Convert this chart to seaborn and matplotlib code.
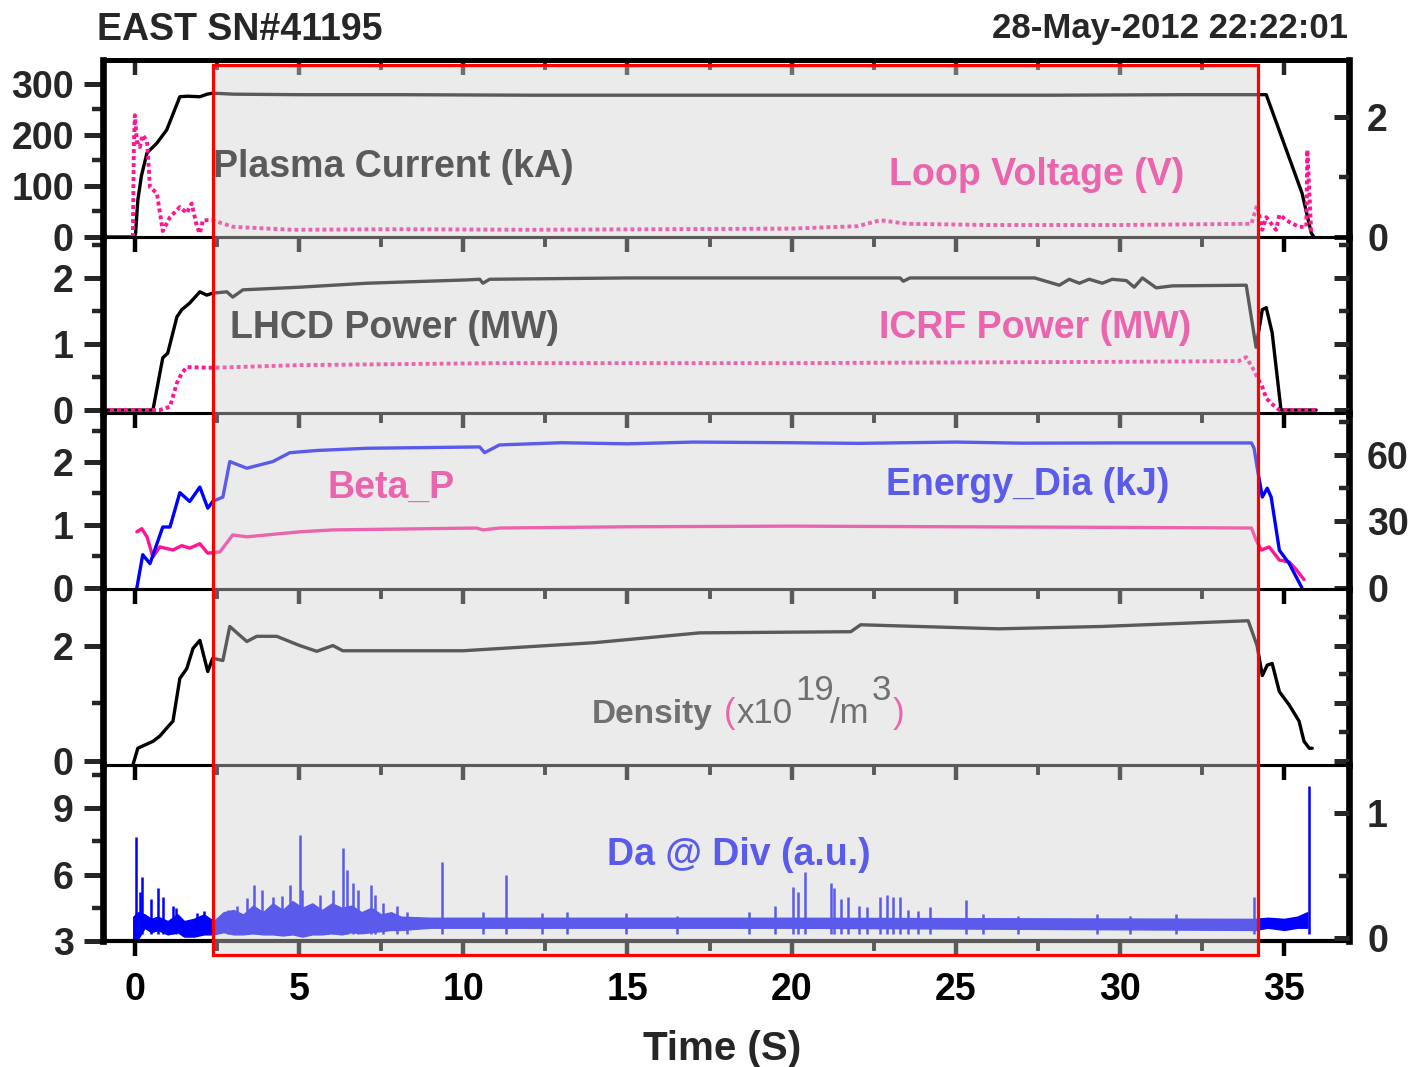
import matplotlib
matplotlib.use('Agg')
import numpy as np
import pandas as pd
import matplotlib.pyplot as plt
from matplotlib.patches import Rectangle
from matplotlib.ticker import MultipleLocator
import seaborn as sns

# ---- datos (tiempo en s) ----
# panel 1: corriente de plasma (kA, eje izq) y tension de lazo (V, eje der)
t_ip = [-0.9, -0.05, 0.02, 0.09, 0.2, 0.37, 0.67, 0.97, 1.37, 1.6, 1.98, 2.2, 2.37, 3.0,
        5.0, 8.0, 12.0, 16.0, 20.0, 24.0, 28.0, 32.0, 34.45, 35.54, 35.82, 35.9]
ip_ka = [0, 0, 5, 72, 120, 165, 184, 210, 275, 276, 275, 280, 282, 280,
         279, 279, 278, 278, 278, 278, 278, 279, 279, 86, 8, 0]

t_vloop = [-0.06, -0.03, 0.0, 0.06, 0.15, 0.24, 0.37, 0.46, 0.67, 0.85, 1.07, 1.37, 1.58,
           1.73, 1.89, 1.98, 2.07, 2.37, 2.98, 4.8, 8.0, 12.0, 16.0, 20.0, 22.0, 22.7,
           23.5, 26.0, 30.0, 34.0, 34.17, 34.33, 34.45, 34.75, 34.85, 35.15, 35.45,
           35.67, 35.7, 35.76, 35.82]
vloop = [0.0, 1.5, 2.03, 1.6, 1.5, 1.7, 1.6, 0.83, 0.73, 0.1, 0.33, 0.5, 0.4,
         0.56, 0.17, 0.06, 0.28, 0.28, 0.17, 0.12, 0.13, 0.12, 0.13, 0.14, 0.18, 0.28,
         0.22, 0.2, 0.2, 0.22, 0.53, 0.12, 0.33, 0.12, 0.37, 0.25, 0.17,
         0.17, 1.45, 0.8, 0.05]

# panel 2: potencia LHCD e ICRF (MW)
t_lhcd = [-0.9, 0.55, 0.85, 1.0, 1.28, 1.43, 1.67, 1.98, 2.19, 2.37, 2.8, 2.98, 3.29,
          5.02, 7.06, 10.1, 10.5, 10.6, 10.8, 15.0, 20.0, 23.3, 23.4, 23.6, 27.4,
          28.15, 28.45, 28.76, 29.06, 29.46, 29.76, 30.19, 30.43, 30.68, 31.1, 31.59,
          33.84, 34.14, 34.33, 34.45, 34.63, 34.9, 35.97]
lhcd = [0, 0, 0.79, 0.86, 1.41, 1.52, 1.62, 1.79, 1.74, 1.77, 1.79, 1.71, 1.82,
        1.86, 1.92, 1.97, 1.98, 1.92, 1.98, 2.0, 2.0, 2.0, 1.95, 2.0, 2.0,
        1.89, 1.98, 1.92, 1.98, 1.92, 1.98, 1.96, 1.86, 2.0, 1.85, 1.88,
        1.89, 0.95, 1.52, 1.55, 1.17, 0, 0]

t_icrf = [-0.97, 0.76, 1.07, 1.28, 1.43, 1.58, 2.37, 5.02, 11.1, 20.0, 25.0, 30.0,
          33.6, 33.84, 34.08, 34.17, 34.33, 34.45, 34.6, 34.85, 35.97]
icrf = [0, 0, 0.05, 0.41, 0.56, 0.65, 0.64, 0.68, 0.71, 0.71, 0.72, 0.73,
        0.74, 0.8, 0.6, 0.5, 0.35, 0.18, 0.1, 0, 0]

# panel 3: Beta_P (eje izq) y energia diamagnetica (kJ, eje der)
t_betap = [0.06, 0.21, 0.37, 0.55, 0.76, 1.16, 1.43, 1.67, 1.98, 2.22, 2.59, 2.98, 3.41,
           5.02, 6.03, 10.4, 10.6, 11.1, 15.0, 20.0, 25.0, 30.0, 34.0, 34.14, 34.3,
           34.54, 34.85, 35.15, 35.36, 35.6]
betap = [0.89, 0.94, 0.81, 0.49, 0.65, 0.6, 0.67, 0.63, 0.7, 0.55, 0.57, 0.84, 0.81,
         0.89, 0.92, 0.95, 0.92, 0.95, 0.97, 0.98, 0.97, 0.96, 0.95, 0.76, 0.6,
         0.65, 0.44, 0.41, 0.29, 0.13]

t_wdia = [0.06, 0.24, 0.46, 0.85, 1.07, 1.37, 1.67, 1.98, 2.22, 2.37, 2.68, 2.89, 3.41,
          4.2, 4.72, 5.54, 7.06, 10.5, 10.65, 11.1, 13.0, 15.0, 17.0, 20.0, 22.0,
          25.0, 27.0, 30.0, 34.0, 34.08, 34.17, 34.33, 34.48, 34.6, 34.85, 35.15, 35.54]
wdia = [0, 15, 11, 27.5, 27.5, 43, 39, 45.5, 36, 39, 41, 57, 54,
        57, 61, 62, 63, 63.6, 61, 64.5, 65.5, 65, 65.8, 65.5, 65.2,
        65.8, 65.3, 65.4, 65.4, 63, 54.6, 41, 45, 41, 17, 11, 0]

# panel 4: densidad (1e19 m^-3)
t_ne = [-0.06, 0.09, 0.24, 0.55, 0.76, 0.97, 1.16, 1.37, 1.58, 1.77, 1.98, 2.22, 2.37,
        2.68, 2.89, 3.41, 3.71, 4.32, 5.02, 5.54, 6.03, 6.33, 7.06, 10.0, 14.0, 17.2,
        21.8, 22.1, 26.3, 29.4, 33.9, 34.17, 34.33, 34.48, 34.63, 34.85, 35.15, 35.45,
        35.6, 35.76, 35.85]
ne = [-0.07, 0.22, 0.26, 0.34, 0.43, 0.57, 0.69, 1.43, 1.6, 1.95, 2.09, 1.55, 1.78,
      1.74, 2.33, 2.07, 2.16, 2.16, 2.0, 1.9, 2.0, 1.91, 1.91, 1.91, 2.05, 2.22,
      2.24, 2.36, 2.29, 2.33, 2.43, 2.0, 1.48, 1.66, 1.69, 1.2, 0.97, 0.69,
      0.34, 0.22, 0.22]

# panel 5: Da en divertor (u.a.): banda de ruido y picos
t_da_band = [-0.05, 0.1, 0.3, 0.5, 0.7, 1.0, 1.3, 1.5, 1.8, 2.1, 2.4, 2.7, 3.0, 3.3, 3.6,
             3.9, 4.2, 4.5, 4.8, 5.1, 5.4, 5.7, 6.0, 6.3, 6.6, 6.9, 7.2, 7.5, 7.8, 8.1,
             9.0, 20.0, 34.1, 34.5, 35.0, 35.4, 35.7]
da_low = [3.0, 3.1, 3.6, 3.4, 3.5, 3.3, 3.4, 3.2, 3.2, 3.3, 3.3, 3.4, 3.3, 3.3, 3.35,
          3.3, 3.3, 3.25, 3.3, 3.2, 3.3, 3.3, 3.35, 3.3, 3.4, 3.35, 3.4, 3.45, 3.5, 3.5,
          3.6, 3.6, 3.5, 3.6, 3.5, 3.6, 3.6]
da_high = [4.1, 4.3, 4.2, 4.0, 4.1, 3.9, 4.2, 3.9, 4.0, 4.2, 3.9, 4.3, 4.4, 4.2, 4.6,
           4.3, 4.7, 4.4, 4.8, 4.5, 4.7, 4.4, 4.7, 4.5, 4.6, 4.3, 4.5, 4.2, 4.3, 4.1,
           4.05, 4.05, 4.0, 4.05, 4.0, 4.1, 4.3]
da_spike_t = [0.05, 0.15, 0.22, 0.5, 0.7, 0.85, 1.15, 1.25, 1.9, 2.1,
              2.83, 3.1, 3.4, 3.62, 3.86, 4.2, 4.47, 4.72, 5.02, 5.1, 5.63, 6.02, 6.33,
              6.45, 6.64, 6.79, 7.18, 7.3, 7.55, 7.97, 8.3, 9.34, 10.6, 11.3, 12.4,
              13.15, 14.97, 16.5, 18.7, 19.5, 20.05, 20.2, 20.4, 21.2, 21.3, 21.5, 21.7,
              22.06, 22.3, 22.7, 22.9, 23.07, 23.3, 23.55, 23.86, 24.2, 25.3, 25.84,
              26.9, 29.3, 30.3, 31.7, 34.08, 35.76]
da_spike_top = [7.7, 5.2, 5.9, 4.9, 5.4, 5.0, 4.6, 4.5, 4.25, 4.35,
                4.4, 4.6, 4.95, 5.55, 5.3, 5.0, 5.05, 5.55, 7.8, 5.3, 5.1, 5.3, 7.2,
                6.2, 5.6, 5.3, 5.55, 5.1, 4.7, 4.6, 4.3, 6.55, 4.3, 6.0, 4.25,
                4.3, 4.25, 4.15, 4.3, 4.6, 5.45, 5.2, 6.1, 5.6, 5.4, 4.9, 5.0,
                4.6, 4.55, 5.0, 5.1, 5.0, 5.0, 4.4, 4.35, 4.55, 4.85, 4.2,
                4.15, 4.2, 4.15, 4.2, 5.0, 10.0]
da_spike_base = 3.3

PINK = '#FF1493'
BLUE = '#0000FF'

sns.set_theme(style="white")
plt.rcParams['font.family'] = ['Liberation Sans', 'DejaVu Sans']
plt.rcParams['font.weight'] = 'bold'

W, H = 1416, 1067
fig = plt.figure(figsize=(W / 100, H / 100), dpi=100)
fig.patch.set_facecolor('white')


def fx(x):
    return x / W


def fy(y):
    return 1 - y / H


def curva(ax, t, v, color, dotted=False, lw=2.4):
    df = pd.DataFrame({'t': t, 'v': v})
    sns.lineplot(data=df, x='t', y='v', ax=ax, color=color, linewidth=lw,
                 linestyle=(0, (1, 0.8)) if dotted else '-', estimator=None, sort=False)
    ax.set_xlabel('')
    ax.set_ylabel('')


bordes = [60, 237, 413, 589, 765, 941]
x_izq, x_der = 103, 1349
ylims_izq = [(0, 347), (-0.045, 2.62), (-0.02, 2.78), (-0.07, 2.98), (3.0, 10.95)]
ylims_der = [(0, 2.95), (-0.045, 2.62), (-0.45, 78.9), (-0.07, 2.98), (-0.02, 1.38)]
major_izq = [100, 1, 1, 2, 3]
minor_izq = [50, 0.5, 0.5, 1, 1.5]
major_der = [2, 1, 30, 1, 1]
minor_der = [1, 0.5, 15, 0.5, 0.5]
con_etiqueta_der = [True, False, True, False, True]

ejes, gemelos = [], []
for i in range(5):
    top, bot = bordes[i], bordes[i + 1]
    ax = fig.add_axes([fx(x_izq), fy(bot), (x_der - x_izq) / W, (bot - top) / H])
    ax.set_facecolor('none')
    tw = ax.twinx()
    ejes.append(ax)
    gemelos.append(tw)

# curvas
curva(ejes[0], t_ip, ip_ka, 'black')
curva(gemelos[0], t_vloop, vloop, PINK, dotted=True, lw=2.8)
curva(ejes[1], t_lhcd, lhcd, 'black')
curva(ejes[1], t_icrf, icrf, PINK, dotted=True, lw=2.8)
curva(ejes[2], t_betap, betap, PINK)
curva(gemelos[2], t_wdia, wdia, BLUE)
curva(ejes[3], t_ne, ne, 'black')
ejes[4].fill_between(t_da_band, da_low, da_high, color=BLUE, lw=1.0)
ejes[4].vlines(da_spike_t, da_spike_base, da_spike_top, color=BLUE, lw=1.8)

for i in range(5):
    ax, tw = ejes[i], gemelos[i]
    ax.set_xlim(-0.97, 36.97)
    ax.set_ylim(*ylims_izq[i])
    tw.set_ylim(*ylims_der[i])
    ax.xaxis.set_major_locator(MultipleLocator(5))
    ax.xaxis.set_minor_locator(MultipleLocator(2.5))
    ax.yaxis.set_major_locator(MultipleLocator(major_izq[i]))
    ax.yaxis.set_minor_locator(MultipleLocator(minor_izq[i]))
    tw.yaxis.set_major_locator(MultipleLocator(major_der[i]))
    tw.yaxis.set_minor_locator(MultipleLocator(minor_der[i]))
    ultimo = i == 4
    ax.tick_params(axis='x', which='both', bottom=True, top=False, direction='out',
                   labelbottom=ultimo, labelsize=27, pad=11, colors='black')
    ax.tick_params(axis='x', which='major', length=11, width=3.2)
    ax.tick_params(axis='x', which='minor', length=7, width=2.8)
    ax.tick_params(axis='y', which='both', left=True, right=False, direction='out',
                   labelsize=27, pad=7)
    ax.tick_params(axis='y', which='major', length=14, width=3.6)
    ax.tick_params(axis='y', which='minor', length=8, width=3.2)
    tw.tick_params(axis='y', which='both', left=False, right=True, direction='in',
                   labelright=con_etiqueta_der[i], labelsize=27, pad=13)
    tw.tick_params(axis='y', which='major', length=11, width=3.6)
    tw.tick_params(axis='y', which='minor', length=7, width=3.2)
    for lado in ['left', 'right', 'top', 'bottom']:
        ax.spines[lado].set_visible(True)
        ax.spines[lado].set_color('black')
        tw.spines[lado].set_visible(False)
    ax.spines['left'].set_linewidth(4.8)
    ax.spines['right'].set_linewidth(4.8)
    ax.spines['top'].set_linewidth(3.5 if i == 0 else 2.2)
    ax.spines['bottom'].set_linewidth(3.0 if ultimo else 2.2)
    ax.grid(False)
    tw.grid(False)

# marcas superiores del primer panel
sec = ejes[0].secondary_xaxis('top')
sec.xaxis.set_major_locator(MultipleLocator(5))
sec.xaxis.set_minor_locator(MultipleLocator(2.5))
sec.tick_params(axis='x', which='both', direction='in', labeltop=False)
sec.tick_params(axis='x', which='major', length=11, width=3.2)
sec.tick_params(axis='x', which='minor', length=7, width=2.8)
sec.spines['top'].set_linewidth(3.5)

# textos
fig.text(fx(97), fy(40), 'EAST SN#41195', fontsize=27, weight='bold', va='baseline')
fig.text(fx(1348), fy(38), '28-May-2012 22:22:01', fontsize=25, weight='bold',
         va='baseline', ha='right')
fig.text(fx(722), fy(1060), 'Time (S)', fontsize=29, weight='bold', va='baseline', ha='center')

etiquetas = [
    ('Plasma Current (kA)', 213, 177, 'black'),
    ('Loop Voltage (V)', 889, 185, PINK),
    ('LHCD Power (MW)', 230, 338, 'black'),
    ('ICRF Power (MW)', 879, 338, PINK),
    ('Beta_P', 328, 498, PINK),
    ('Energy_Dia (kJ)', 886, 495, BLUE),
    ('Da @ Div (a.u.)', 607, 865, BLUE),
]
for txt, x, y, c in etiquetas:
    fig.text(fx(x), fy(y), txt, fontsize=27, weight='bold', color=c, va='baseline')

fig.text(fx(592), fy(723), 'Density', fontsize=24, weight='bold', va='baseline')
fig.text(fx(724), fy(723), '(', fontsize=25, weight='normal', color=PINK, va='baseline')
fig.text(fx(737), fy(723), 'x10', fontsize=25, weight='normal', va='baseline')
fig.text(fx(795), fy(700), '19', fontsize=25, weight='normal', va='baseline')
fig.text(fx(830), fy(723), '/m', fontsize=25, weight='normal', va='baseline')
fig.text(fx(872), fy(700), '3', fontsize=25, weight='normal', va='baseline')
fig.text(fx(893), fy(723), ')', fontsize=25, weight='normal', color=PINK, va='baseline')

# ventana de estado estacionario sombreada
x0, x1, y0, y1 = 213, 1258, 65, 955
sombra = Rectangle((fx(x0), fy(y1)), (x1 - x0) / W, (y1 - y0) / H, transform=fig.transFigure,
                   facecolor=(210 / 255, 210 / 255, 210 / 255), alpha=0.43, edgecolor='none',
                   zorder=10)
marco = Rectangle((fx(x0), fy(y1)), (x1 - x0) / W, (y1 - y0) / H, transform=fig.transFigure,
                  fill=False, edgecolor='red', linewidth=2.3, zorder=11)
fig.add_artist(sombra)
fig.add_artist(marco)

fig.savefig('out.png', dpi=100)
plt.close(fig)
